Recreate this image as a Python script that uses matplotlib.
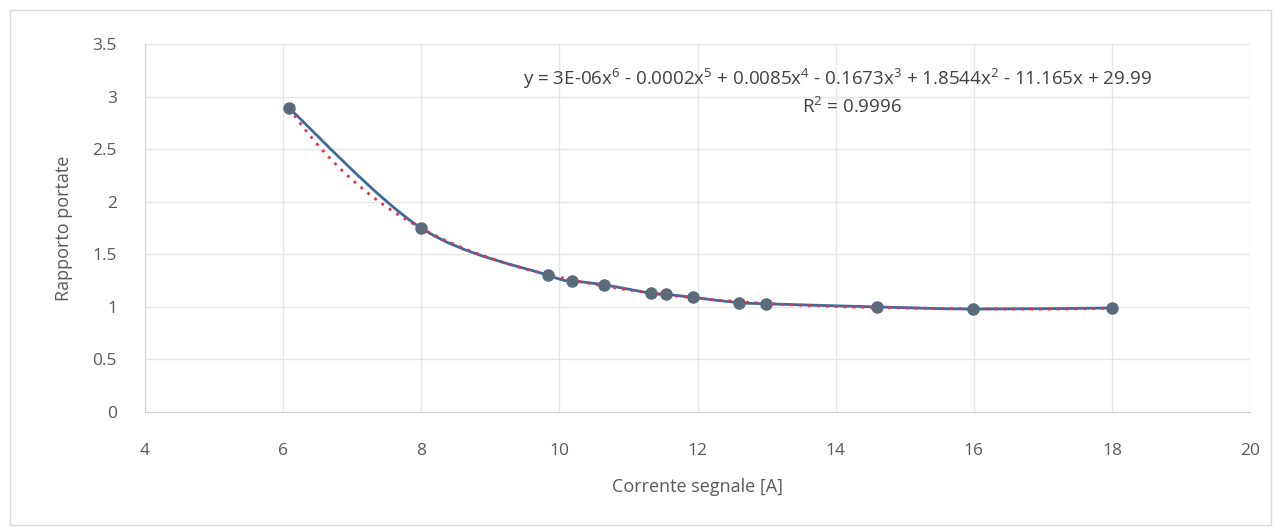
import numpy as np
import matplotlib.pyplot as plt
from matplotlib.patches import Rectangle, PathPatch
from matplotlib.path import Path

# data
corrente = [6.09, 8.0, 9.84, 10.19, 10.65, 11.33, 11.55, 11.94, 12.6, 12.99, 14.6, 15.99, 18.0]
rapporto = [2.89, 1.75, 1.30, 1.25, 1.21, 1.13, 1.12, 1.09, 1.04, 1.03, 1.00, 0.98, 0.99]
x_ticks = [4, 6, 8, 10, 12, 14, 16, 18, 20]
y_ticks = [0, 0.5, 1, 1.5, 2, 2.5, 3, 3.5]
equation = "y = 3E-06x$^6$ - 0.0002x$^5$ + 0.0085x$^4$ - 0.1673x$^3$ + 1.8544x$^2$ - 11.165x + 29.99"
r2_text = "R$^2$ = 0.9996"

plt.rcParams['font.family'] = ['Open Sans', 'DejaVu Sans']
plt.rcParams['mathtext.fontset'] = 'custom'
plt.rcParams['mathtext.rm'] = 'Open Sans'
txt = '#595959'


def smooth_path(ax, xs, ys):
    # Excel-like smoothed line: Catmull-Rom segments as cubic Beziers, in pixel space
    pts = ax.transData.transform(np.column_stack([xs, ys]))
    n = len(pts)
    verts = [pts[0]]
    codes = [Path.MOVETO]
    for i in range(n - 1):
        p0 = pts[max(i - 1, 0)]
        p1 = pts[i]
        p2 = pts[i + 1]
        p3 = pts[min(i + 2, n - 1)]
        c1 = p1 + (p2 - p0) / 6.0
        c2 = p2 - (p3 - p1) / 6.0
        verts += [c1, c2, p2]
        codes += [Path.CURVE4] * 3
    verts = ax.transData.inverted().transform(np.array(verts))
    return Path(verts, codes)


fig = plt.figure(figsize=(12.81, 5.31), dpi=100)
fig.patches.append(Rectangle((0.008, 0.012), 0.984, 0.97, transform=fig.transFigure,
                             fill=False, edgecolor='#d9d9d9', linewidth=1))
ax = fig.add_axes([0.113, 0.224, 0.863, 0.693])
ax.set_xlim(4, 20)
ax.set_ylim(0, 3.5)

# polynomial trendline (6th degree)
coef = np.polyfit(corrente, rapporto, 6)
xs = np.linspace(min(corrente), max(corrente), 300)
ax.plot(xs, np.polyval(coef, xs), color='#e8304a', linestyle=(0, (1, 2.2)),
        linewidth=2, zorder=3)

ax.add_patch(PathPatch(smooth_path(ax, corrente, rapporto), fill=False,
                       edgecolor='#3d6a9e', linewidth=2, zorder=2))
ax.plot(corrente, rapporto, linestyle='none', marker='o', markersize=8,
        markerfacecolor='#5b6b7c', markeredgecolor='#5b6b7c', zorder=4)

ax.set_xticks(x_ticks)
ax.set_yticks(y_ticks)
ax.set_yticklabels([f"{v:g}" for v in y_ticks])
ax.grid(True, color='#e6e6e6', linewidth=1)
ax.set_axisbelow(True)
for s in ['top', 'right']:
    ax.spines[s].set_visible(False)
for s in ['left', 'bottom']:
    ax.spines[s].set_color('#d0d0d0')
ax.tick_params(axis='x', length=0, labelsize=12.5, colors=txt, pad=22)
ax.tick_params(axis='y', length=0, labelsize=12.5, colors=txt, pad=20)

ax.set_xlabel('Corrente segnale [A]', fontsize=13, color=txt, labelpad=14)
ax.set_ylabel('Rapporto portate', fontsize=13, color=txt, labelpad=14)

ax.text(0.627, 0.905, equation, transform=ax.transAxes, ha='center', va='center',
        fontsize=13.5, color='#404040')
ax.text(0.64, 0.83, r2_text, transform=ax.transAxes, ha='center', va='center',
        fontsize=13.5, color='#404040')

fig.savefig('out.png', dpi=100)
